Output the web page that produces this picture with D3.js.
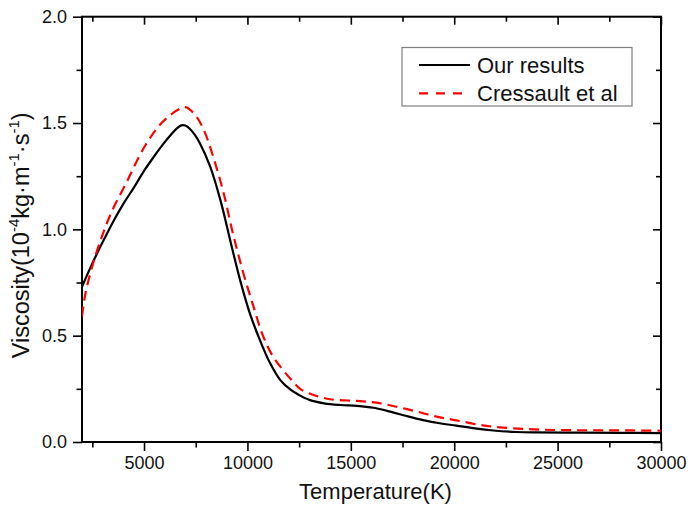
<!DOCTYPE html>
<html>
<head>
<meta charset="utf-8">
<script src="https://cdn.jsdelivr.net/npm/d3@7"></script>
<style>
  html, body { margin: 0; padding: 0; background: #fff; }
  svg { display: block; font-family: Arial, "Liberation Sans", sans-serif; }
</style>
</head>
<body>
<svg id="chart" width="688" height="508"></svg>
<script>
// ---- data ----
const oursT = [2000, 2500, 3000, 3500, 4000, 4500, 5000, 5500, 6000, 6300, 6600, 6800, 7000, 7200, 7450, 7700, 8200, 8700, 9200, 9650, 10100, 10600, 11100, 11600, 12100, 12500, 13000, 13700, 14500, 15300, 16100, 16900, 17700, 18500, 19300, 20100, 21000, 21900, 23000, 24000, 26000, 28000, 30000];
const oursV = [0.73, 0.84, 0.94, 1.035, 1.12, 1.195, 1.275, 1.345, 1.41, 1.445, 1.476, 1.489, 1.488, 1.474, 1.445, 1.405, 1.295, 1.135, 0.935, 0.76, 0.61, 0.48, 0.37, 0.29, 0.245, 0.221, 0.198, 0.182, 0.174, 0.170, 0.161, 0.143, 0.122, 0.103, 0.088, 0.077, 0.064, 0.054, 0.047, 0.045, 0.044, 0.043, 0.042];

const cresT = [2000, 2150, 2450, 2850, 3400, 4200, 5000, 5800, 6600, 7000, 7500, 7900, 8350, 8850, 9300, 9800, 10300, 10750, 11250, 11750, 12150, 12550, 13200, 14000, 15300, 16250, 17200, 18200, 19150, 20100, 21250, 22200, 23500, 25100, 27500, 30000];
const cresV = [0.59, 0.69, 0.81, 0.935, 1.075, 1.23, 1.385, 1.495, 1.56, 1.575, 1.535, 1.465, 1.34, 1.17, 0.98, 0.795, 0.635, 0.50, 0.40, 0.335, 0.29, 0.25, 0.221, 0.201, 0.193, 0.185, 0.166, 0.143, 0.119, 0.102, 0.080, 0.069, 0.061, 0.056, 0.055, 0.053];

const xTicks = [5000, 10000, 15000, 20000, 25000, 30000];
const xMinor = [2500, 7500, 12500, 17500, 22500, 27500];
const yTicks = [0.0, 0.5, 1.0, 1.5, 2.0];
const yMinor = [0.25, 0.75, 1.25, 1.75];
const seriesNames = ["Our results", "Cressault et al"];

// ---- layout ----
const svg = d3.select("#chart");
const L = 82, R = 661, T = 16.7, B = 442;
const x = d3.scaleLinear().domain([2000, 30000]).range([L, R]);
const y = d3.scaleLinear().domain([0, 2.0]).range([B, T]);

const gAx = svg.append("g");

// bottom axis (outward ticks)
gAx.append("g").attr("transform", `translate(0,${B})`)
  .call(d3.axisBottom(x).tickValues(xTicks).tickFormat(d3.format("d")).tickSizeInner(9).tickSizeOuter(0).tickPadding(5));
gAx.append("g").attr("transform", `translate(0,${B})`)
  .call(d3.axisBottom(x).tickValues(xMinor).tickFormat("").tickSizeInner(5.5).tickSizeOuter(0));

// left axis (outward ticks)
gAx.append("g").attr("transform", `translate(${L},0)`)
  .call(d3.axisLeft(y).tickValues(yTicks).tickFormat(d3.format(".1f")).tickSizeInner(9).tickSizeOuter(0).tickPadding(6));
gAx.append("g").attr("transform", `translate(${L},0)`)
  .call(d3.axisLeft(y).tickValues(yMinor).tickFormat("").tickSizeInner(5.5).tickSizeOuter(0));

// top axis (inward ticks)
gAx.append("g").attr("transform", `translate(0,${T})`)
  .call(d3.axisBottom(x).tickValues(xTicks).tickFormat("").tickSizeInner(8).tickSizeOuter(0));
gAx.append("g").attr("transform", `translate(0,${T})`)
  .call(d3.axisBottom(x).tickValues(xMinor).tickFormat("").tickSizeInner(5).tickSizeOuter(0));

// right axis (inward ticks)
gAx.append("g").attr("transform", `translate(${R},0)`)
  .call(d3.axisLeft(y).tickValues(yTicks).tickFormat("").tickSizeInner(8).tickSizeOuter(0));
gAx.append("g").attr("transform", `translate(${R},0)`)
  .call(d3.axisLeft(y).tickValues(yMinor).tickFormat("").tickSizeInner(5).tickSizeOuter(0));

gAx.selectAll(".domain").remove();
gAx.selectAll(".tick line").attr("stroke", "#000").attr("stroke-width", 1.6);
gAx.selectAll(".tick text").attr("font-size", 18).attr("fill", "#111")
  .attr("font-family", "Arial, 'Liberation Sans', sans-serif");

// frame
svg.append("rect").attr("x", L).attr("y", T).attr("width", R - L).attr("height", B - T)
  .attr("fill", "none").attr("stroke", "#000").attr("stroke-width", 2);

// ---- lines ----
const line = d3.line().x(d => x(d[0])).y(d => y(d[1])).curve(d3.curveCatmullRom.alpha(0.5));
const ours = oursT.map((t, i) => [t, oursV[i]]);
const cres = cresT.map((t, i) => [t, cresV[i]]);

svg.append("clipPath").attr("id", "clip").append("rect")
  .attr("x", L).attr("y", T).attr("width", R - L).attr("height", B - T);

svg.append("path").datum(ours).attr("d", line).attr("fill", "none")
  .attr("stroke", "#000").attr("stroke-width", 2.2).attr("clip-path", "url(#clip)");
svg.append("path").datum(cres).attr("d", line).attr("fill", "none")
  .attr("stroke", "#ff0000").attr("stroke-width", 2.2).attr("stroke-dasharray", "10,6")
  .attr("clip-path", "url(#clip)");

// ---- axis titles ----
svg.append("text").attr("x", (L + R) / 2 + 4).attr("y", 499).attr("text-anchor", "middle")
  .attr("font-size", 22).attr("fill", "#111").text("Temperature(K)");

const yt = svg.append("text").attr("transform", `translate(29,${(T + B) / 2 + 6}) rotate(-90)`)
  .attr("text-anchor", "middle").attr("font-size", 23.5).attr("fill", "#111");
yt.append("tspan").text("Viscosity(10");
yt.append("tspan").attr("font-size", 15).attr("dy", -10).text("-4");
yt.append("tspan").attr("dy", 10).text("kg·m");
yt.append("tspan").attr("font-size", 15).attr("dy", -10).text("-1");
yt.append("tspan").attr("dy", 10).text("·s");
yt.append("tspan").attr("font-size", 15).attr("dy", -10).text("-1");
yt.append("tspan").attr("dy", 10).text(")");

// ---- legend ----
const lg = svg.append("g");
lg.append("rect").attr("x", 402).attr("y", 47.5).attr("width", 230).attr("height", 58.5)
  .attr("fill", "#fff").attr("stroke", "#7f7f7f").attr("stroke-width", 1.2);
const styles = [{ c: "#000", dash: null }, { c: "#ff0000", dash: "9,8" }];
seriesNames.forEach((name, i) => {
  const yy = 65 + i * 28.3;
  lg.append("line").attr("x1", 419).attr("x2", 470).attr("y1", yy).attr("y2", yy)
    .attr("stroke", styles[i].c).attr("stroke-width", 2.2)
    .attr("stroke-dasharray", styles[i].dash);
  lg.append("text").attr("x", 477).attr("y", yy + 7.5).attr("font-size", 22)
    .attr("fill", "#111").text(name);
});
</script>
</body>
</html>
